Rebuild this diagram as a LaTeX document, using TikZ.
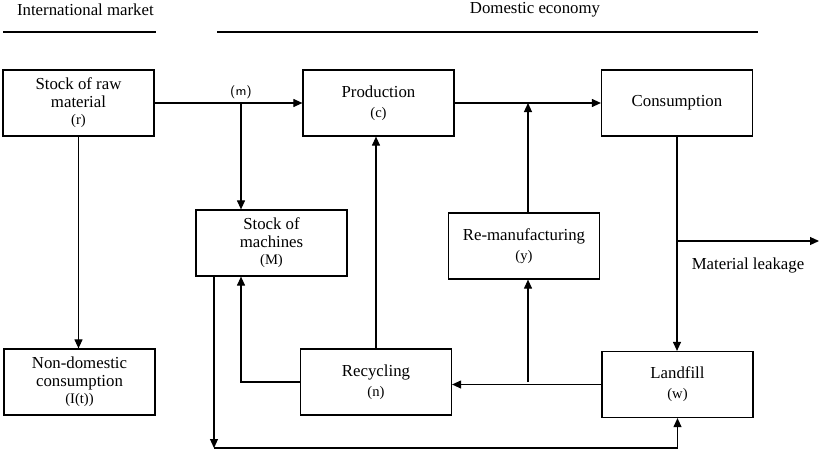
\documentclass[tikz,border=0pt]{standalone}
\usepackage{fontspec}
\setmainfont{Liberation Serif}
\usetikzlibrary{arrows.meta}
\newcommand{\varlbl}[1]{{\fontsize{7.3}{8}\selectfont(#1)}}
\begin{document}
\begin{tikzpicture}[x=0.5pt, y=-0.5pt,
    box/.style={draw, line width=0.6pt, minimum width=75.5pt, minimum height=33pt,
      align=center, inner sep=1pt, font=\fontsize{8.4}{8.8}\selectfont},
    flow/.style={line width=0.55pt, -{Triangle[length=4.5pt,width=4pt]}},
    link/.style={line width=0.55pt},
    heading/.style={font=\fontsize{8.4}{9.5}\selectfont}]
  \useasboundingbox (0,0) rectangle (819,455);

  % Headings
  \node[heading, anchor=west] (intl) at (10,10) {International market};
  \node[heading] (dom) at (535,10) {Domestic economy};
  \draw[link] (3,32) -- (156,32);
  \draw[link] (217,32) -- (758,32);

  % Boxes
  \node[box] (raw) at (78.5,103) {Stock of raw\\material\\\varlbl{r}};
  \node[box] (prod) at (378.5,103) {Production\\[1.2pt]\varlbl{c}};
  \node[box] (cons) at (677,103) {Consumption};
  \node[box] (mach) at (271.5,243) {Stock of\\machines\\\varlbl{M}};
  \node[box] (remanu) at (524,246) {Re-manufacturing\\[1.2pt]\varlbl{y}};
  \node[box] (nondom) at (79.5,382) {Non-domestic\\consumption\\\varlbl{I(t)}};
  \node[box] (recyc) at (376,382) {Recycling\\[1.2pt]\varlbl{n}};
  \node[box] (land) at (677.5,384.5) {Landfill\\[1.2pt]\varlbl{w}};

  % Junctions
  \coordinate (mjoin) at (241,103);
  \coordinate (pjoin) at (528,103);
  \coordinate (rjoin) at (528,382);
  \coordinate (ljoin) at (677,241);
  \coordinate (leak) at (819,241);
  \coordinate (mdrop) at (214,276);
  \coordinate (mcorner) at (214,448);

  % Flows of material
  \draw[flow] (raw.east) -- (prod.west);
  \node[font=\sffamily\fontsize{6.5}{7.5}\selectfont] (mlbl) at (241,92) {(m)};
  \draw[flow] (mjoin) -- (mjoin |- mach.north);
  \draw[flow] (raw.south) -- (raw.south |- nondom.north);
  \draw[flow] (prod.east) -- (cons.west);
  \draw[flow] (remanu.north -| pjoin) -- (pjoin);
  \draw[flow] (recyc.north) -- (recyc.north |- prod.south);
  \draw[flow] (recyc.west) -| (mach.south -| mjoin);
  \draw[flow] (land.west) -- (land.west -| recyc.east);
  \draw[flow] (rjoin) -- (rjoin |- remanu.south);
  \draw[flow] (cons.south) -- (cons.south |- land.north);
  \draw[flow] (ljoin) -- (leak);
  \node[heading] (leaklbl) at (748,265) {Material leakage};
  \draw[flow] (mdrop) -- (mcorner);
  \draw[flow] (mcorner) -| (land.south);
\end{tikzpicture}
\end{document}
